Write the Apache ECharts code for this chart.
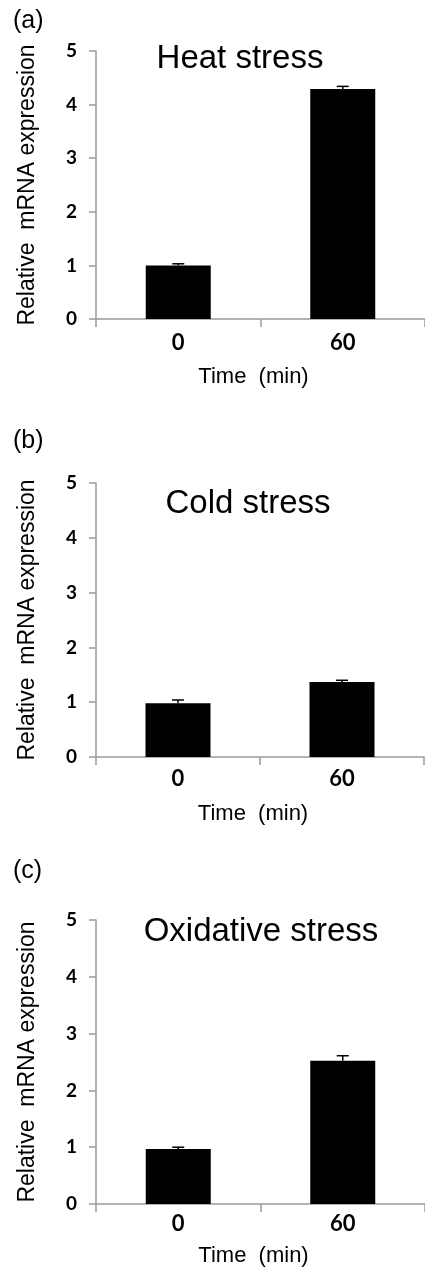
<!DOCTYPE html>
<html>
<head>
<meta charset="utf-8">
<title>Relative mRNA expression under stress</title>
<script src="https://cdn.jsdelivr.net/npm/echarts@6/dist/echarts.min.js"></script>
<style>
  html, body { margin: 0; padding: 0; background: #fff; }
  #chart { width: 425px; height: 1275px; }
</style>
</head>
<body>
<div id="chart"></div>
<script>
// data
var categories = ['0', '60'];
var panelLetters = ['(a)', '(b)', '(c)'];
var panelTitles = ['Heat stress', 'Cold stress', 'Oxidative stress'];
var heatMeans = [1.00, 4.29];
var heatErrors = [0.03, 0.05];
var coldMeans = [0.98, 1.37];
var coldErrors = [0.06, 0.03];
var oxidativeMeans = [0.97, 2.52];
var oxidativeErrors = [0.03, 0.09];
var yTickMin = 0, yTickMax = 5, yTickStep = 1;
var xName = 'Time  (min)';
var yName = 'Relative  mRNA expression';

var means = [heatMeans, coldMeans, oxidativeMeans];
var errors = [heatErrors, coldErrors, oxidativeErrors];

// layout of the three panels (px)
var layout = [
  { top: 51, height: 268, width: 334, titleX: 235, titleY: 54, letterY: 22, xLabelMargin: 13, xNameGap: 47 },
  { top: 483, height: 274, width: 328, titleX: 243, titleY: 499, letterY: 442, xLabelMargin: 11, xNameGap: 46 },
  { top: 920, height: 284, width: 334, titleX: 256, titleY: 927, letterY: 872, xLabelMargin: 9, xNameGap: 41 }
];

var axisGray = '#9a9a9a';

var myChart = echarts.init(document.getElementById('chart'), null, { renderer: 'canvas' });

var grids = [], xAxes = [], yAxes = [], series = [], titles = [], graphics = [];

layout.forEach(function (p, i) {
  grids.push({ left: 96, top: p.top, width: p.width, height: p.height, containLabel: false });

  xAxes.push({
    type: 'category',
    gridIndex: i,
    data: categories,
    boundaryGap: true,
    axisLine: { show: true, lineStyle: { color: axisGray, width: 1.5 } },
    axisTick: { show: true, length: 8, lineStyle: { color: axisGray, width: 1.5 } },
    axisLabel: { margin: p.xLabelMargin, color: '#000', fontFamily: 'Lato', fontWeight: 'bold', fontSize: 22 },
    splitLine: { show: false },
    name: xName,
    nameLocation: 'middle',
    nameGap: p.xNameGap,
    nameTextStyle: { color: '#000', fontFamily: 'Liberation Sans', fontSize: 22, padding: [0, 14, 0, 0] }
  });

  yAxes.push({
    type: 'value',
    gridIndex: i,
    min: yTickMin,
    max: yTickMax,
    interval: yTickStep,
    axisLine: { show: true, lineStyle: { color: axisGray, width: 1.5 } },
    axisTick: { show: true, length: 7, lineStyle: { color: axisGray, width: 1.5 } },
    axisLabel: { margin: 19, color: '#000', fontFamily: 'Lato', fontWeight: 'bold', fontSize: 19 },
    splitLine: { show: false },
    name: yName,
    nameLocation: 'middle',
    nameRotate: 90,
    nameGap: 57,
    nameTextStyle: { color: '#000', fontFamily: 'Liberation Sans', fontSize: 23 }
  });

  // bars
  series.push({
    type: 'bar',
    xAxisIndex: i,
    yAxisIndex: i,
    data: means[i],
    barWidth: 65,
    itemStyle: { color: '#000' },
    z: 2
  });

  // error bars (upper half only shows above the bar)
  series.push({
    type: 'custom',
    xAxisIndex: i,
    yAxisIndex: i,
    z: 3,
    data: means[i].map(function (m, k) { return [k, m, errors[i][k]]; }),
    encode: { x: 0, y: 1 },
    renderItem: function (params, api) {
      var base = api.coord([api.value(0), api.value(1)]);
      var top = api.coord([api.value(0), api.value(1) + api.value(2)]);
      var half = 6;
      var style = { stroke: '#000', lineWidth: 1.5 };
      return {
        type: 'group',
        children: [
          { type: 'line', shape: { x1: base[0], y1: base[1], x2: top[0], y2: top[1] }, style: style },
          { type: 'line', shape: { x1: top[0] - half, y1: top[1], x2: top[0] + half, y2: top[1] }, style: style }
        ]
      };
    }
  });

  titles.push({
    text: panelTitles[i],
    left: p.titleX,
    top: p.titleY,
    textAlign: 'center',
    textVerticalAlign: 'middle',
    textStyle: { color: '#000', fontFamily: 'Liberation Sans', fontWeight: 'normal', fontSize: 33 }
  });

  graphics.push({
    type: 'text',
    left: 13,
    top: p.letterY - 13,
    style: { text: panelLetters[i], fill: '#000', font: '25px "Liberation Sans"' }
  });
});

var option = {
  animation: false,
  backgroundColor: '#fff',
  title: titles,
  grid: grids,
  xAxis: xAxes,
  yAxis: yAxes,
  series: series,
  graphic: graphics
};
myChart.setOption(option);
</script>
</body>
</html>
